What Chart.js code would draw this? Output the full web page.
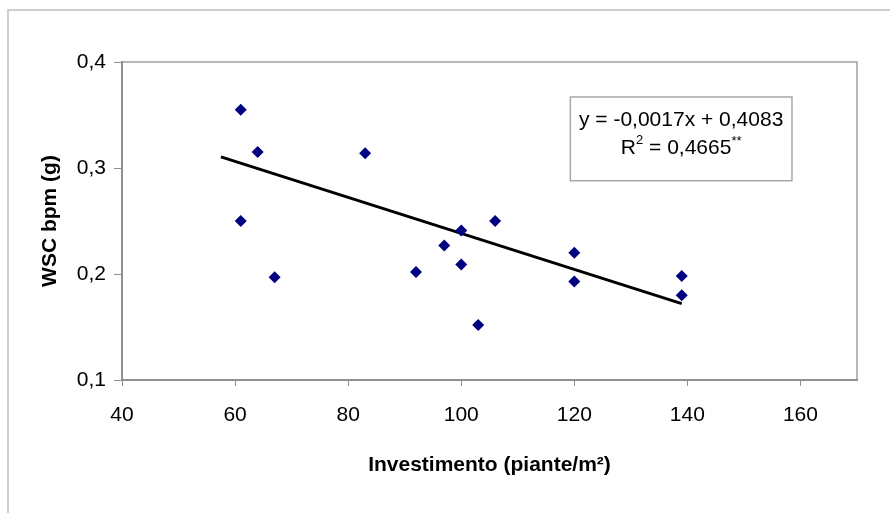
<!DOCTYPE html>
<html>
<head>
<meta charset="utf-8">
<script src="https://cdn.jsdelivr.net/npm/chart.js@4.4.1/dist/chart.umd.min.js"></script>
<style>
body { margin: 0; background: #ffffff; }
canvas { display: block; }
</style>
</head>
<body>
<canvas id="graficoWSC" width="890" height="513"></canvas>
<script>

/* DATI */
let arrayInvestimento = [61, 64, 83, 61, 67, 92, 97, 100, 100, 106, 103, 120, 120, 139, 139]
let arrayWSC = [0.355, 0.315, 0.314, 0.250, 0.197, 0.202, 0.227, 0.241, 0.209, 0.250, 0.152, 0.220, 0.193, 0.198, 0.180]

/* retta di regressione */
let pendenza = -0.0017
let intercetta = 0.4083
let arrayRettaX = [57.5, 139]

let arrayTickX = [40, 60, 80, 100, 120, 140, 160]
let arrayTickY = [0.1, 0.2, 0.3, 0.4]

let testoEquazione = "y = -0,0017x + 0,4083"
let testoR2 = "R"
let apiceR2 = "2"
let testoValoreR2 = " = 0,4665"
let apiceSignif = "**"

let titoloX = "Investimento (piante/m²)"
let titoloY = "WSC bpm (g)"


let ctxGrafico = document.getElementById("graficoWSC").getContext("2d")
const fontFamiglia = "'Liberation Sans', Arial, sans-serif"

function virgola(v) {
    return v.toFixed(1).replace(".", ",")
}

function cargarPunti() {
    let punti = []
    for (let i = 0; i < arrayInvestimento.length; i++) {
        punti.push({ x: arrayInvestimento[i], y: arrayWSC[i] })
    }
    return punti
}

function cargarRetta() {
    let punti = []
    for (let i = 0; i < arrayRettaX.length; i++) {
        punti.push({ x: arrayRettaX[i], y: pendenza * arrayRettaX[i] + intercetta })
    }
    return punti
}

/* cornice esterna e bordo dell'area del grafico */
const cornice = {
    id: "cornice",
    beforeDraw(chart) {
        let ctx = chart.ctx
        ctx.save()
        ctx.strokeStyle = "#c0c0c0"
        ctx.lineWidth = 1.5
        ctx.beginPath()
        ctx.moveTo(8, 520)
        ctx.lineTo(8, 10)
        ctx.lineTo(900, 10)
        ctx.stroke()

        let a = chart.chartArea
        ctx.strokeStyle = "#a0a0a0"
        ctx.lineWidth = 1.5
        ctx.beginPath()
        ctx.moveTo(a.left, a.top)
        ctx.lineTo(a.right, a.top)
        ctx.lineTo(a.right, a.bottom)
        ctx.stroke()
        ctx.restore()
    }
}

/* riquadro con equazione e R2 */
const riquadro = {
    id: "riquadro",
    afterDraw(chart) {
        let ctx = chart.ctx
        let sx = chart.scales.x
        let sy = chart.scales.y
        let x0 = sx.getPixelForValue(119.3)
        let x1 = sx.getPixelForValue(158.5)
        let y0 = sy.getPixelForValue(0.367)
        let y1 = sy.getPixelForValue(0.288)
        ctx.save()
        ctx.fillStyle = "#ffffff"
        ctx.fillRect(x0, y0, x1 - x0, y1 - y0)
        ctx.strokeStyle = "#a8a8a8"
        ctx.lineWidth = 1.5
        ctx.strokeRect(x0, y0, x1 - x0, y1 - y0)

        let cx = (x0 + x1) / 2
        let fontBase = "21px " + fontFamiglia
        let fontApice = "13px " + fontFamiglia
        ctx.fillStyle = "#000000"
        ctx.textBaseline = "middle"
        ctx.textAlign = "center"
        ctx.font = fontBase
        ctx.fillText(testoEquazione, cx, y0 + 23)

        // seconda riga con apici
        let wR = ctx.measureText(testoR2).width
        let wV = ctx.measureText(testoValoreR2).width
        ctx.font = fontApice
        let wA = ctx.measureText(apiceR2).width
        let wS = ctx.measureText(apiceSignif).width
        let x = cx - (wR + wA + wV + wS) / 2
        let yRiga = y0 + 51
        ctx.textAlign = "left"
        ctx.font = fontBase
        ctx.fillText(testoR2, x, yRiga)
        x += wR
        ctx.font = fontApice
        ctx.fillText(apiceR2, x, yRiga - 8)
        x += wA
        ctx.font = fontBase
        ctx.fillText(testoValoreR2, x, yRiga)
        x += wV
        ctx.font = fontApice
        ctx.fillText(apiceSignif, x, yRiga - 7)
        ctx.restore()
    }
}

let configGrafico = {
    type: "scatter",
    data: {
        datasets: [
            {
                label: "WSC",
                data: cargarPunti(),
                pointStyle: "rectRot",
                pointRadius: 6,
                pointHoverRadius: 6,
                backgroundColor: "#000080",
                borderColor: "#000080",
                borderWidth: 0,
                order: 1
            },
            {
                label: "Lineare",
                type: "line",
                data: cargarRetta(),
                borderColor: "#000000",
                borderWidth: 3,
                pointRadius: 0,
                fill: false,
                order: 2
            }
        ]
    },
    options: {
        responsive: false,
        animation: false,
        events: [],
        layout: { padding: { top: 62, right: 33, left: 0, bottom: 0 } },
        plugins: {
            legend: { display: false },
            tooltip: { enabled: false }
        },
        scales: {
            x: {
                type: "linear",
                min: 40,
                max: 170,
                afterFit(scale) { scale.height = 133 },
                afterBuildTicks(scale) { scale.ticks = arrayTickX.map(v => ({ value: v })) },
                grid: { drawOnChartArea: false, drawTicks: true, tickLength: 6, color: "#909090", lineWidth: 1 },
                border: { color: "#909090", width: 2 },
                ticks: {
                    color: "#000000",
                    padding: 17,
                    maxRotation: 0,
                    font: { family: fontFamiglia, size: 21 }
                },
                title: {
                    display: true,
                    text: titoloX,
                    color: "#000000",
                    padding: { top: 0, bottom: 35 },
                    font: { family: fontFamiglia, size: 21, weight: "bold" }
                }
            },
            y: {
                type: "linear",
                min: 0.1,
                max: 0.4,
                afterFit(scale) { scale.width = 122 },
                afterBuildTicks(scale) { scale.ticks = arrayTickY.map(v => ({ value: v })) },
                grid: { drawOnChartArea: false, drawTicks: true, tickLength: 8, color: "#909090", lineWidth: 1 },
                border: { color: "#909090", width: 2 },
                ticks: {
                    color: "#000000",
                    padding: 8,
                    callback: (v) => virgola(v),
                    font: { family: fontFamiglia, size: 21 }
                },
                title: {
                    display: true,
                    text: titoloY,
                    color: "#000000",
                    padding: { top: 38, bottom: 0 },
                    font: { family: fontFamiglia, size: 21, weight: "bold" }
                }
            }
        }
    },
    plugins: [cornice, riquadro]
}

var grafico = new Chart(ctxGrafico, configGrafico)

</script>
</body>
</html>
